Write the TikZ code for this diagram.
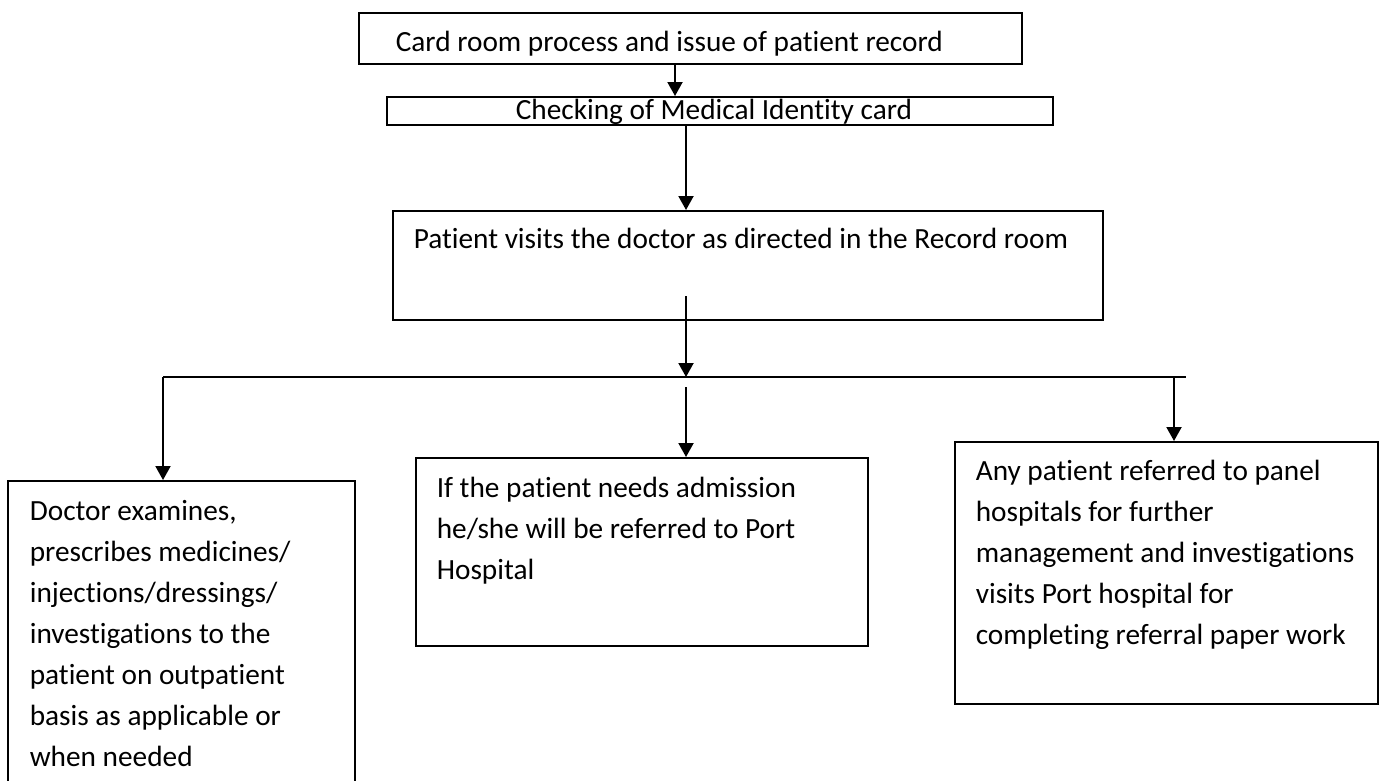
\documentclass[tikz,border=0pt]{standalone}
\usepackage{fontspec}
\setmainfont{Carlito}[Ligatures=NoCommon]
\usetikzlibrary{arrows.meta}

\newcommand{\bodyfont}{\fontsize{29.3}{41}\selectfont}
\newcommand{\padleft}[1]{\leftskip=#1\relax}

\tikzset{
  stepbox/.style={draw, line width=1.6pt, anchor=north west, inner sep=0pt, align=flush left, font=\bodyfont},
  wire/.style={line width=2pt},
  flow/.style={line width=2pt, -{Triangle[width=15pt,length=14pt]}},
}

\begin{document}
\begin{tikzpicture}[x=1pt,y=-1pt]
		\path[use as bounding box, clip] (0,0) rectangle (1384,780);

		% boxes
		\node[stepbox, text width=663pt, text height=39pt, text depth=12pt] (card) at (358,12) {\padleft{37pt}Card room process and issue of patient record\par};
		\node[stepbox, text width=666pt, text height=23pt, text depth=5pt] (check) at (386,96) {\padleft{129pt}Checking of Medical Identity card\par};
		\node[stepbox, text width=710pt, text height=38pt, text depth=71pt] (visit) at (392,210) {\padleft{21pt}Patient visits the doctor as directed in the Record room\par};
		\node[stepbox, text width=347pt, text height=40pt, text depth=290pt] (doc) at (7,480) {\padleft{22pt}Doctor examines,\\ prescribes medicines/\\ injections/dressings/\\ investigations to the\\ patient on outpatient\\ basis as applicable or\\ when needed\par};
		\node[stepbox, text width=452pt, text height=40pt, text depth=148pt] (admit) at (415,457) {\padleft{21pt}If the patient needs admission\\ he/she will be referred to Port\\ Hospital\par};
		\node[stepbox, text width=423pt, text height=39pt, text depth=223pt] (refer) at (954,441) {\padleft{21pt}Any patient referred to panel\\ hospitals for further\\ management and investigations\\ visits Port hospital for\\ completing referral paper work\par};

		% splitting line
		\coordinate (split) at (686,296);
		\coordinate (busL) at (163,377);
		\coordinate (busM) at (686,377);
		\coordinate (busR) at (1186,377);
		\coordinate (gap) at (686,387);

		\draw[flow] (675,0 |- card.south) -- (675,0 |- check.north);
		\draw[flow] (686,0 |- check.south) -- (686,0 |- visit.north);
		\draw[flow] (split) -- (busM);
		\draw[wire] (busL) -- (busR);

		\draw[flow] (busL) -- (busL |- doc.north);
		\draw[flow] (gap) -- (gap |- admit.north);
		\draw[flow] (1174,377) -- (1174,0 |- refer.north);
	\end{tikzpicture}
\end{document}
